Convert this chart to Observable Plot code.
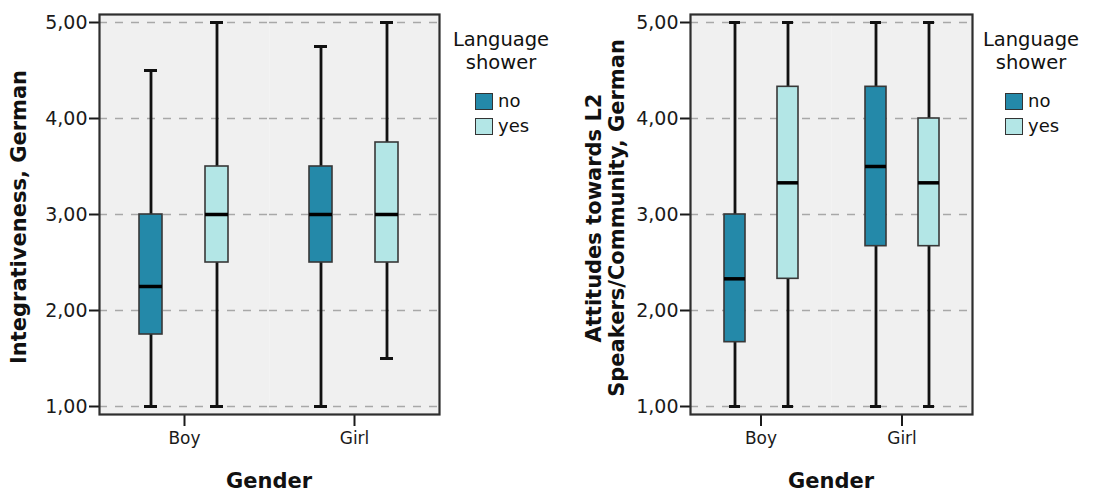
<!DOCTYPE html>
<html><head><meta charset="utf-8">
<script src="https://cdn.jsdelivr.net/npm/d3@7"></script>
<script src="https://cdn.jsdelivr.net/npm/@observablehq/plot@0.6"></script>
<style>
body{margin:0;background:#fff;font-family:"DejaVu Sans",sans-serif;}
#wrap{position:relative;width:1109px;height:493px;overflow:hidden;}
.panel{position:absolute;top:0;}
.ytitle{position:absolute;font-weight:bold;font-size:21px;color:#111;white-space:nowrap;text-align:center;line-height:23px;transform:translate(-50%,-50%) rotate(-90deg);}
.xtitle{position:absolute;font-weight:bold;font-size:21px;color:#111;transform:translate(-50%,-50%);white-space:nowrap;}
.ltitle{position:absolute;font-size:19.5px;color:#111;text-align:center;line-height:23px;transform:translateX(-50%);white-space:nowrap;}
.sw{position:absolute;width:16px;height:15px;border:1.5px solid #333;}
.lab{position:absolute;font-size:18px;color:#111;line-height:18px;}
</style></head>
<body>
<div id="wrap"></div>
<script>
// ---- data ----
const genderLevels = ["Boy", "Girl"];
const showerLevels = ["no", "yes"];
const genders = ["Boy", "Boy", "Girl", "Girl"];
const shower = ["no", "yes", "no", "yes"];
// Integrativeness, German
const integMin = [1, 1, 1, 1.5];
const integQ1 = [1.75, 2.5, 2.5, 2.5];
const integMed = [2.25, 3, 3, 3];
const integQ3 = [3, 3.5, 3.5, 3.75];
const integMax = [4.5, 5, 4.75, 5];
// Attitudes towards L2 Speakers/Community, German
const attMin = [1, 1, 1, 1];
const attQ1 = [1.67, 2.33, 2.67, 2.67];
const attMed = [2.33, 3.33, 3.5, 3.33];
const attQ3 = [3, 4.33, 4.33, 4];
const attMax = [5, 5, 5, 5];
const yTicks = [1, 2, 3, 4, 5];

const palette = ["#2489a9", "#b3e6e6"];

function makePanel(stats, cfg) {
  const rows = genders.map((g, i) => ({
    gender: g, shower: shower[i],
    min: stats.min[i], q1: stats.q1[i], med: stats.med[i], q3: stats.q3[i], max: stats.max[i]
  }));
  const ch = {fx: "gender", x: "shower"};
  return Plot.plot({
    width: cfg.width, height: 493,
    marginLeft: cfg.marginLeft, marginRight: 6, marginTop: 14, marginBottom: 79,
    style: {fontFamily: "DejaVu Sans", color: "#1a1a1a", background: "transparent", overflow: "visible"},
    fx: {domain: genderLevels, padding: 0, axis: null},
    x: {domain: showerLevels, paddingInner: cfg.pi, paddingOuter: cfg.po, axis: null},
    y: {domain: [1, 5], inset: 8, axis: null},
    color: {domain: showerLevels, range: palette},
    marks: [
      Plot.frame({fill: "#f0f0f0"}),
      Plot.gridY(yTicks, {stroke: "#a8a8a8", strokeOpacity: 1, strokeWidth: 1.4, strokeDasharray: "8,8"}),
      Plot.ruleX(rows, {...ch, y1: "min", y2: "max", stroke: "#111", strokeWidth: 2.8}),
      Plot.tickY(rows, {...ch, y: "min", stroke: "#111", strokeWidth: 3, insetLeft: 5, insetRight: 5}),
      Plot.tickY(rows, {...ch, y: "max", stroke: "#111", strokeWidth: 3, insetLeft: 5, insetRight: 5}),
      Plot.barY(rows, {...ch, y1: "q1", y2: "q3", fill: "shower", stroke: "#383838", strokeWidth: 1.6}),
      Plot.tickY(rows, {...ch, y: "med", stroke: "#000", strokeWidth: 3.5}),
      Plot.axisY({ticks: yTicks, tickFormat: d => d.toFixed(2).replace(".", ","), tickSize: 10, tickPadding: 2, fontSize: 19, label: null, strokeWidth: 2}),
      Plot.axisFx({anchor: "bottom", tickSize: 12, tickPadding: 5, fontSize: 17, label: null, strokeWidth: 2}),
      Plot.frame({facet: "super", stroke: "#2e2e2e", strokeWidth: 2.2})
    ]
  });
}

const wrap = document.getElementById("wrap");
function place(node, left) {
  const d = document.createElement("div");
  d.className = "panel"; d.style.left = left + "px";
  d.appendChild(node); wrap.appendChild(d);
}
function addText(cls, html, left, top) {
  const d = document.createElement("div");
  d.className = cls; d.innerHTML = html;
  d.style.left = left + "px"; d.style.top = top + "px";
  wrap.appendChild(d); return d;
}
function addLegend(cx, swLeft) {
  addText("ltitle", "Language<br>shower", cx, 28);
  showerLevels.forEach((s, i) => {
    const sw = addText("sw", "", swLeft, 93 + i * 25);
    sw.style.background = palette[i];
    addText("lab", s, swLeft + 23, 92 + i * 25);
  });
}

place(makePanel({min: integMin, q1: integQ1, med: integMed, q3: integQ3, max: integMax},
  {width: 445, marginLeft: 99, pi: 0.6515, po: 0.6136}), 0);
place(makePanel({min: attMin, q1: attQ1, med: attMed, q3: attQ3, max: attMax},
  {width: 418, marginLeft: 130, pi: 0.6038, po: 0.632}), 560);

addText("ytitle", "Integrativeness, German", 19, 217);
addText("ytitle", "Attitudes towards L2<br>Speakers/Community, German", 606, 218);
addText("xtitle", "Gender", 269, 481);
addText("xtitle", "Gender", 831, 481);
addLegend(501, 475);
addLegend(1031, 1005);
</script>
</body></html>
